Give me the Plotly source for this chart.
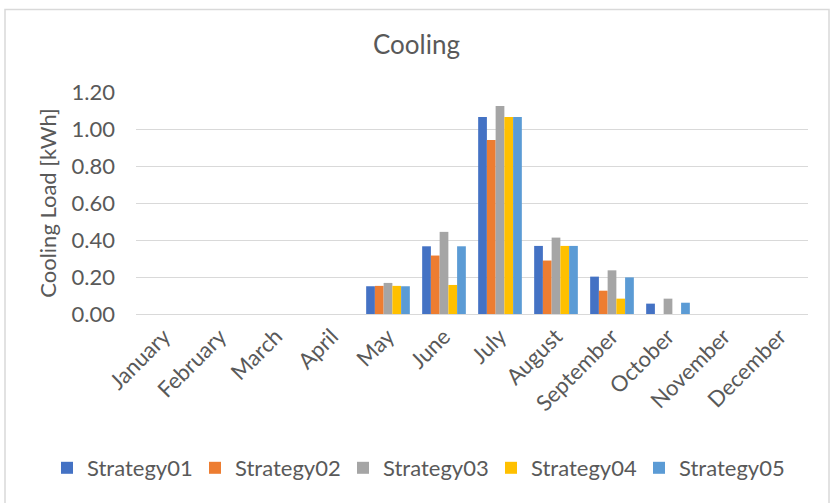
import plotly.graph_objects as go

months = ["January", "February", "March", "April", "May", "June", "July",
          "August", "September", "October", "November", "December"]
strategy01 = [0, 0, 0, 0, 0.150, 0.366, 1.065, 0.368, 0.202, 0.056, 0, 0]
strategy02 = [0, 0, 0, 0, 0.152, 0.316, 0.940, 0.289, 0.126, 0, 0, 0]
strategy03 = [0, 0, 0, 0, 0.168, 0.444, 1.125, 0.413, 0.236, 0.083, 0, 0]
strategy04 = [0, 0, 0, 0, 0.152, 0.157, 1.065, 0.368, 0.083, 0, 0, 0]
strategy05 = [0, 0, 0, 0, 0.150, 0.366, 1.065, 0.368, 0.198, 0.061, 0, 0]
series_names = ["Strategy01", "Strategy02", "Strategy03", "Strategy04", "Strategy05"]
colors = ["#4472C4", "#ED7D31", "#A5A5A5", "#FFC000", "#5B9BD5"]
y_ticks = [0, 0.2, 0.4, 0.6, 0.8, 1.0, 1.2]
y_tick_labels = ["0.00", "0.20", "0.40", "0.60", "0.80", "1.00", "1.20"]

FONT = "Lato"
TXT = "#595959"
W, H = 833, 503
L, R, T, B = 136, 25, 92, 189

fig = go.Figure()
for name, vals, col in zip(series_names,
                           [strategy01, strategy02, strategy03, strategy04, strategy05],
                           colors):
    fig.add_trace(go.Bar(x=months, y=vals, name=name, marker_color=col,
                         marker_line_width=0))

pw = W - L - R
ph = H - T - B
def px_x(p):
    return (p - L) / pw
def px_y(p):
    return (H - B - p) / ph

fig.update_layout(
    width=W, height=H,
    margin=dict(l=L, r=R, t=T, b=B, autoexpand=False),
    paper_bgcolor="white", plot_bgcolor="white",
    font=dict(family=FONT, color=TXT, size=22),
    barmode="group", bargap=0.22, bargroupgap=0,
    title=dict(text="Cooling", x=0.5, xref="container", y=1 - 45 / H,
               yref="container", xanchor="center", yanchor="middle",
               font=dict(family=FONT, size=26, color=TXT)),
    xaxis=dict(showgrid=False, showline=True, linecolor="#D9D9D9", linewidth=1,
               tickangle=-45, ticks="", tickfont=dict(size=22, color=TXT)),
    yaxis=dict(range=[0, 1.2], tickvals=y_ticks, ticktext=y_tick_labels,
               showgrid=True, gridcolor="#D9D9D9", gridwidth=1,
               zeroline=False, showline=False, ticks="",
               ticklabelstandoff=20,
               tickfont=dict(size=22, color=TXT),
               title=dict(text="Cooling Load [kWh]", standoff=8,
                          font=dict(size=22, color=TXT))),
    legend=dict(orientation="h", xref="paper", yref="paper",
                x=px_x(47), y=px_y(468), xanchor="left", yanchor="middle",
                font=dict(size=22, color=TXT), itemwidth=30,
                entrywidth=103, entrywidthmode="pixels",
                traceorder="normal"),
    showlegend=True,
)

fig.add_shape(type="rect", xref="paper", yref="paper",
              x0=px_x(5), x1=px_x(829), y0=px_y(9.5), y1=px_y(510),
              line=dict(color="#D9D9D9", width=1.5), layer="below")

fig.write_html("out.html",
               config={"displayModeBar": False},
               post_script="document.body.style.margin='0';"
                           "document.body.style.overflow='hidden';")
